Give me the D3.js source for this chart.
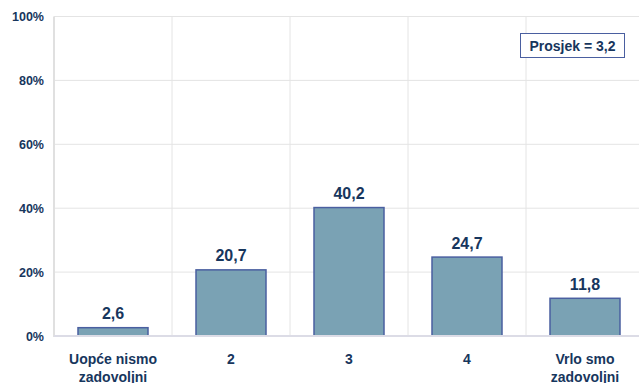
<!DOCTYPE html>
<html><head><meta charset="utf-8">
<script src="https://cdn.jsdelivr.net/npm/d3@7"></script>
<style>body{margin:0;background:#fff}svg{display:block}text{font-family:"Liberation Sans",Arial,sans-serif;font-weight:bold;fill:#17365d}</style>
</head><body><svg id="c" width="639" height="383"></svg>
<script>
const categories = [["Uopće nismo","zadovoljni"],["2"],["3"],["4"],["Vrlo smo","zadovoljni"]];
const values = [2.6, 20.7, 40.2, 24.7, 11.8];
const valueLabels = ["2,6","20,7","40,2","24,7","11,8"];
const yTicks = [0, 20, 40, 60, 80, 100];
const meanLabel = "Prosjek = 3,2";

const svg = d3.select("#c");
const m = {l:54, t:16.5, r:-5, b:336};
const x = d3.scaleBand().domain(d3.range(values.length)).range([m.l, 639 - m.r]).paddingInner(0).paddingOuter(0);
const y = d3.scaleLinear().domain([0,100]).range([m.b, m.t]);

// grid
const g = svg.append("g");
g.selectAll(".hg").data(yTicks).join("line")
  .attr("x1", m.l).attr("x2", 639 - m.r).attr("y1", d=>y(d)).attr("y2", d=>y(d))
  .attr("stroke", "#e4e4e4").attr("stroke-width", 1);
g.selectAll(".vg").data(d3.range(1, values.length+1)).join("line")
  .attr("x1", d=>x.step()*d + m.l).attr("x2", d=>x.step()*d + m.l)
  .attr("y1", m.t).attr("y2", m.b).attr("stroke", "#e4e4e4");
g.append("line").attr("x1", m.l).attr("x2", m.l).attr("y1", m.t).attr("y2", m.b+1)
  .attr("stroke", "#e0e0e0").attr("stroke-width", 2);

// bars
const bw = 70;
svg.selectAll(".bar").data(values).join("rect")
  .attr("x", (d,i)=>x(i) + x.bandwidth()/2 - bw/2)
  .attr("y", d=>y(d)).attr("width", bw).attr("height", d=>m.b - y(d))
  .attr("fill", "#7aa2b4").attr("stroke", "#4a5fa0").attr("stroke-width", 1.5);

// baseline
svg.append("line").attr("x1", m.l).attr("x2", 639).attr("y1", m.b).attr("y2", m.b)
  .attr("stroke", "#dcdce6").attr("stroke-width", 2);

// value labels
svg.selectAll(".vl").data(values).join("text")
  .attr("x", (d,i)=>x(i) + x.bandwidth()/2).attr("y", d=>y(d) - 8.5)
  .attr("text-anchor", "middle").attr("font-size", 16).text((d,i)=>valueLabels[i]);

// y tick labels
svg.selectAll(".yl").data(yTicks).join("text")
  .attr("x", 44).attr("y", d=>y(d) + 4.5).attr("text-anchor", "end")
  .attr("font-size", 12.5).text(d=>d + "%");

// category labels
const cl = svg.selectAll(".cl").data(categories).join("text")
  .attr("text-anchor", "middle").attr("font-size", 14);
cl.each(function(lines, i){
  d3.select(this).selectAll("tspan").data(lines).join("tspan")
    .attr("x", x(i) + x.bandwidth()/2).attr("y", (d,j)=>364 + j*18).text(d=>d);
});

// mean box
svg.append("rect").attr("x", 520.5).attr("y", 33.5).attr("width", 104).attr("height", 24)
  .attr("fill", "#fff").attr("stroke", "#4a5fa0").attr("stroke-width", 1);
svg.append("text").attr("x", 572.5).attr("y", 50.5).attr("text-anchor", "middle")
  .attr("font-size", 14).text(meanLabel);
</script></body></html>
